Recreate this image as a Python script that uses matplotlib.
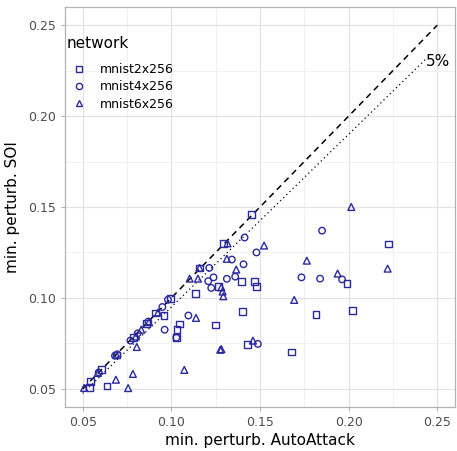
import matplotlib
matplotlib.use("Agg")
import matplotlib.pyplot as plt
from matplotlib.lines import Line2D

# ---- data ----
networks = ["mnist2x256", "mnist4x256", "mnist6x256"]
markers = ["s", "o", "^"]

aa_2x = [0.0536, 0.0546, 0.0637, 0.0605, 0.0690, 0.0786, 0.0859, 0.0912, 0.0958, 0.0994,
         0.1028, 0.1032, 0.1045, 0.1137, 0.1159, 0.1250, 0.1266, 0.1295, 0.1396, 0.1400,
         0.1428, 0.1452, 0.1469, 0.1478, 0.1676, 0.1816, 0.1991, 0.2021, 0.2227]
soi_2x = [0.0508, 0.0539, 0.0516, 0.0605, 0.0686, 0.0782, 0.0858, 0.0917, 0.0904, 0.0996,
          0.0781, 0.0825, 0.0857, 0.1024, 0.1165, 0.0851, 0.1064, 0.1300, 0.1092, 0.0925,
          0.0743, 0.1459, 0.1092, 0.1064, 0.0703, 0.0910, 0.1079, 0.0932, 0.1297]

aa_4x = [0.0590, 0.0682, 0.0695, 0.0769, 0.0810, 0.0870, 0.0949, 0.0962, 0.0981, 0.1028,
         0.1096, 0.1208, 0.1214, 0.1225, 0.1238, 0.1313, 0.1341, 0.1360, 0.1407, 0.1413,
         0.1480, 0.1488, 0.1734, 0.1839, 0.1850, 0.1963]
soi_4x = [0.0590, 0.0682, 0.0690, 0.0765, 0.0805, 0.0870, 0.0950, 0.0825, 0.0990, 0.0781,
          0.0903, 0.1092, 0.1165, 0.1055, 0.1113, 0.1105, 0.1211, 0.1117, 0.1185, 0.1332,
          0.1250, 0.0747, 0.1113, 0.1106, 0.1370, 0.1102]

aa_6x = [0.0508, 0.0585, 0.0687, 0.0756, 0.0783, 0.0800, 0.0805, 0.0830, 0.0874, 0.0925,
         0.1073, 0.1103, 0.1139, 0.1150, 0.1159, 0.1276, 0.1282, 0.1282, 0.1289, 0.1293,
         0.1313, 0.1317, 0.1366, 0.1460, 0.1523, 0.1693, 0.1764, 0.1938, 0.2015, 0.2220]
soi_6x = [0.0505, 0.0587, 0.0550, 0.0504, 0.0582, 0.0788, 0.0730, 0.0825, 0.0867, 0.0920,
          0.0604, 0.1106, 0.0890, 0.1106, 0.1165, 0.0715, 0.0718, 0.1058, 0.1035, 0.1009,
          0.1215, 0.1300, 0.1156, 0.0765, 0.1288, 0.0989, 0.1205, 0.1134, 0.1500, 0.1161]

ticks = [0.05, 0.10, 0.15, 0.20, 0.25]
tick_labels = ["0.05", "0.10", "0.15", "0.20", "0.25"]
minor = [0.075, 0.125, 0.175, 0.225]
margin_pct = 0.05

# ---- plot ----
W, H = 457, 451
fig = plt.figure(figsize=(W / 100, H / 100), dpi=100)
ax = fig.add_axes([65 / W, 1 - 407 / H, (455 - 65) / W, (407 - 7) / H])

color = "#2a2a9e"
series = [(aa_2x, soi_2x), (aa_4x, soi_4x), (aa_6x, soi_6x)]
for (xs, ys), m, name in zip(series, markers, networks):
    ax.scatter(xs, ys, marker=m, s=24 if m != "o" else 22, facecolors="none",
               edgecolors=color, linewidths=1.0, label=name, zorder=3)

# reference lines
ax.plot([0.05, 0.25], [0.05, 0.25], ls=(0, (4, 3)), color="black", lw=1.1, zorder=2)
ax.plot([0.05, 0.2436], [0.05 * (1 - margin_pct), 0.2436 * (1 - margin_pct)],
        ls=(0, (1, 2.5)), color="black", lw=0.9, zorder=2)
ax.text(0.2505, 0.2302, "5%", fontsize=11, ha="center", va="center", color="black")

ax.set_xlim(0.04, 0.26)
ax.set_ylim(0.04, 0.26)
ax.set_xticks(ticks)
ax.set_xticklabels(tick_labels)
ax.set_yticks(ticks)
ax.set_yticklabels(tick_labels)
ax.set_xticks(minor, minor=True)
ax.set_yticks(minor, minor=True)
ax.grid(which="major", color="#e3e3e3", lw=0.9, zorder=0)
ax.grid(which="minor", color="#efefef", lw=0.6, zorder=0)
ax.set_axisbelow(True)
ax.tick_params(which="major", length=3, color="#b3b3b3", labelsize=9, labelcolor="#4d4d4d", width=0.8)
ax.tick_params(which="minor", length=0)
for s in ax.spines.values():
    s.set_color("#b3b3b3")
    s.set_linewidth(0.9)

ax.set_xlabel("min. perturb. AutoAttack", fontsize=11, labelpad=3)
ax.set_ylabel("min. perturb. SOI", fontsize=11, labelpad=6)

# legend: title as separate text to match spacing
ax.text(0.005, 1 - 36 / 400, "network", transform=ax.transAxes, fontsize=11,
        ha="left", va="center")
handles = [Line2D([], [], marker=m, ls="none", markerfacecolor="none",
                  markeredgecolor=color, markersize=4.5, markeredgewidth=1.0) for m in markers]
leg = ax.legend(handles, networks, loc="upper left",
                bbox_to_anchor=(0.0, 1 - 51 / 400), frameon=False, fontsize=9,
                handletextpad=0.9, labelspacing=0.35,
                borderaxespad=0.0, handlelength=1.5)

fig.savefig("out.png", dpi=100)
